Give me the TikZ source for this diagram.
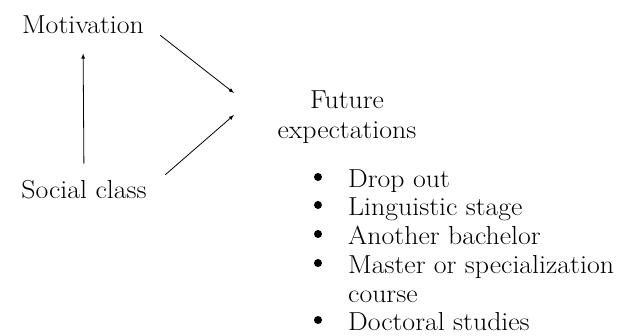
\documentclass[tikz,border=0pt]{standalone}
\usepackage{fontspec}
\setmainfont{Latin Modern Roman}[FakeStretch=1.07]
\usetikzlibrary{arrows}

\begin{document}
\begin{tikzpicture}[x=1pt,y=-1pt,>=latex,
  lbl/.style={font=\fontsize{26}{30}\selectfont,inner sep=2pt},
  bul/.style={circle,fill,inner sep=0pt,minimum size=8pt},
  arr/.style={->,line width=0.8pt}]
  \useasboundingbox (0,0) rectangle (620,335);

  \node[lbl,anchor=base] (mot) at (83,33) {Motivation};
  \node[lbl,anchor=base] (soc) at (84,198) {Social class};
  \node[lbl,anchor=base,align=center] (fut) at (347,138) {Future\\expectations};

  \coordinate (in1) at (234,93);
  \coordinate (in2) at (234,115);

  \draw[arr,shorten <=14pt,shorten >=18pt] (soc.north) -- (mot.south);
  \draw[arr,shorten <=18pt] (mot.east) -- (in1);
  \draw[arr,shorten <=22pt] (soc.east) -- (in2);

  \foreach \y/\txt [count=\i] in {187/Drop out,215/Linguistic stage,
      244/Another bachelor,273/Master or specialization,330/Doctoral studies} {
    \node[bul] (b\i) at (318,\y-10) {};
    \node[lbl,anchor=base west] (t\i) at (346,\y) {\txt};
  }
  \node[lbl,anchor=base west] (t4b) at (346,302) {course};
\end{tikzpicture}
\end{document}
